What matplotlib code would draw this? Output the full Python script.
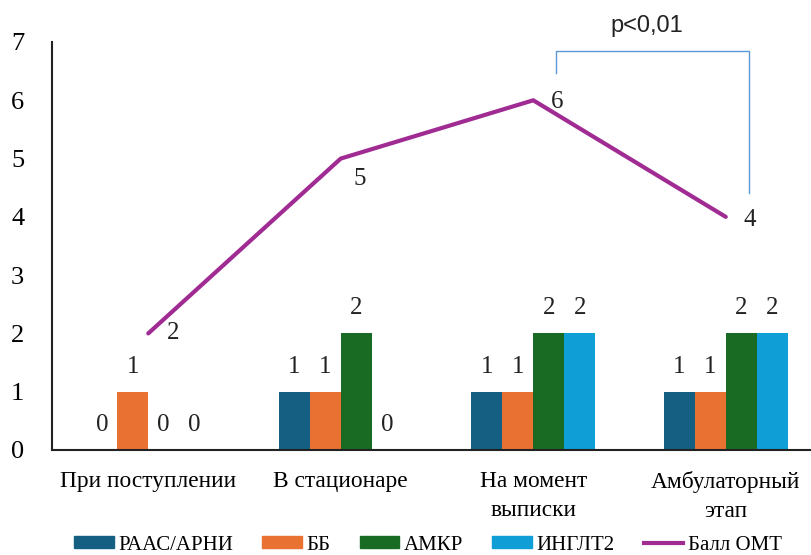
import matplotlib
matplotlib.use("Agg")
import matplotlib.pyplot as plt
from matplotlib.lines import Line2D
import numpy as np

plt.rcParams['font.family'] = ['Liberation Serif', 'DejaVu Serif']

# Data
categories = ["При поступлении", "В стационаре", "На момент\nвыписки", "Амбулаторный\nэтап"]
series_names = ["РААС/АРНИ", "ББ", "АМКР", "ИНГЛТ2"]
raas_arni = [0, 1, 1, 1]
bb = [1, 1, 1, 1]
amkr = [0, 2, 2, 2]
inglt2 = [0, 0, 2, 2]
omt_score = [2, 5, 6, 4]
line_name = "Балл ОМТ"
p_text = "p<0,01"

bar_colors = ["#156082", "#E97132", "#196B24", "#0F9ED5"]
line_color = "#A02B93"

fig = plt.figure(figsize=(8.12, 5.55), dpi=100)
ax = fig.add_axes([52/812, 105/555, 770/812, 408/555])

x = np.arange(len(categories))
w = 0.161
offsets = [-1.5, -0.5, 0.5, 1.5]
all_series = [raas_arni, bb, amkr, inglt2]

for vals, off, col in zip(all_series, offsets, bar_colors):
    ax.bar(x + off * w, vals, width=w, color=col, zorder=2)
    for xi, v in zip(x + off * w, vals):
        ax.annotate(str(v), (xi, v), xytext=(0, 18), textcoords="offset points",
                    ha="center", va="center", fontsize=18, color="#222222")

ax.plot(x, omt_score, color=line_color, lw=3, zorder=3, solid_capstyle="round")
label_offsets = [(18, 0), (14, -15), (17, -1), (17, -2)]
for xi, v, (dx, dy) in zip(x, omt_score, label_offsets):
    ax.annotate(str(v), (xi, v), xytext=(dx, dy), textcoords="offset points",
                ha="center", va="center", fontsize=18, color="#222222")

ax.set_xlim(-0.5, 3.5)
ax.set_ylim(0, 7)
ax.set_yticks(range(0, 8))
ax.set_xticks(x)
ax.set_xticklabels(categories, fontsize=16.8, linespacing=1.5)
ax.tick_params(axis="y", length=0, pad=20, labelsize=19)
ax.tick_params(axis="x", length=0, pad=15)
for s in ["top", "right"]:
    ax.spines[s].set_visible(False)
for s in ["left", "bottom"]:
    ax.spines[s].set_linewidth(1.5)
    ax.spines[s].set_color("#222222")

# Significance bracket between the last two time points
bx0, bx1 = 2.119, 3.122
ax.plot([bx0, bx0, bx1, bx1], [6.47, 6.845, 6.845, 4.41], color="#5B9BD5",
        lw=1, clip_on=False, zorder=4)
ax.text((bx0 + bx1) / 2 - 0.03, 7.27, p_text, ha="center", va="center",
        fontsize=17, family=["Liberation Sans", "DejaVu Sans"], color="#222222",
        clip_on=False)

handles = [plt.Rectangle((0, 0), 1, 1, color=c) for c in bar_colors]
handles.append(Line2D([0], [0], color=line_color, lw=3))
fig.legend(handles, series_names + [line_name], loc="center",
           bbox_to_anchor=(428/812, 1 - 545/555), ncol=5, frameon=False,
           fontsize=15, handlelength=1.9, handleheight=0.45, handletextpad=0.22,
           columnspacing=1.4, borderpad=0, borderaxespad=0)

fig.savefig("out.png", dpi=100)
